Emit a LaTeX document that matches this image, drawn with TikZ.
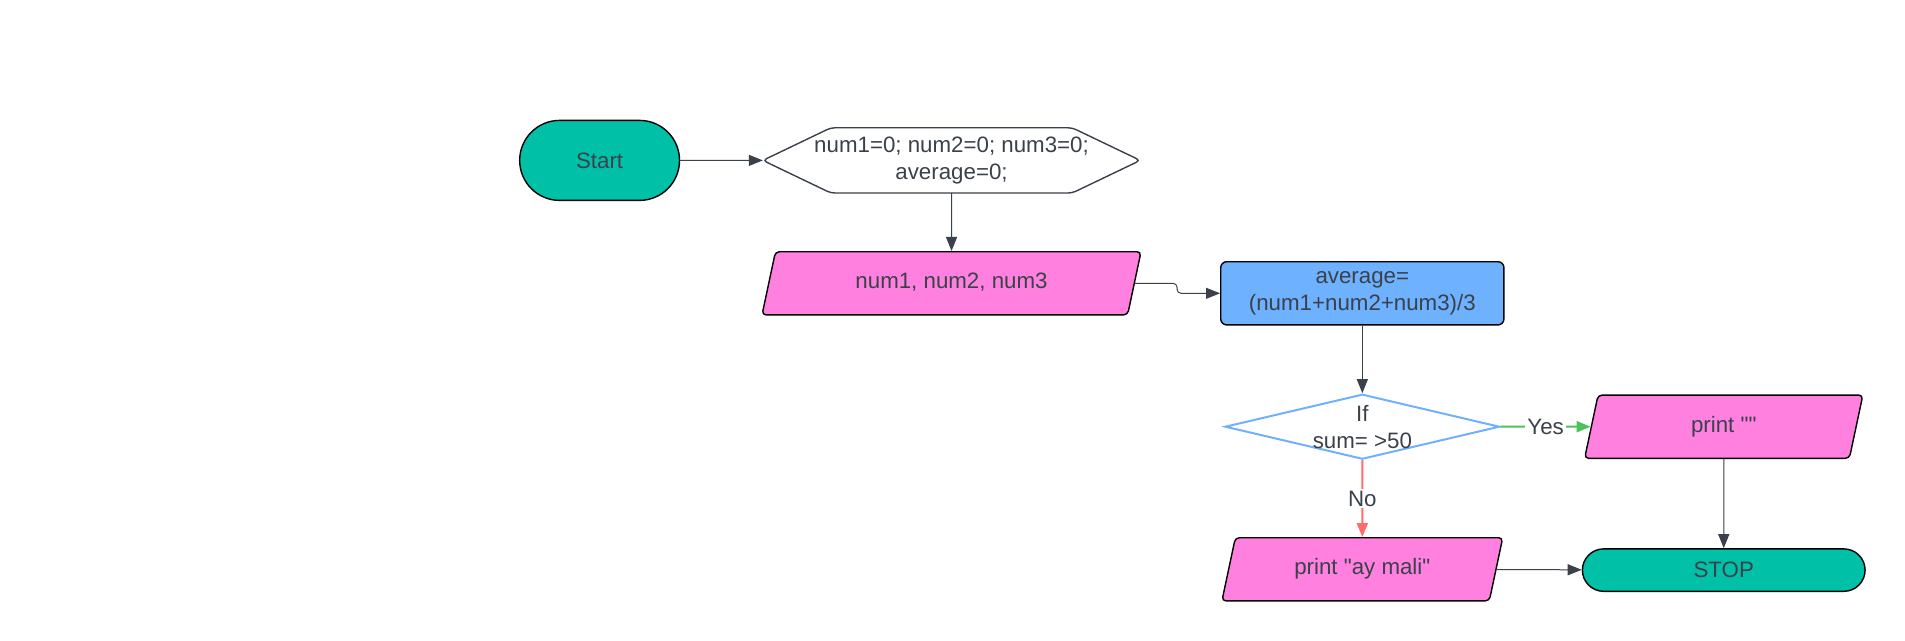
\documentclass[tikz,border=0pt]{standalone}
\usepackage{fontspec}
\setmainfont{Liberation Sans}[Ligatures=TeXOff]
\usepackage{tikz}
\usetikzlibrary{shapes,arrows.meta,positioning,calc}

\definecolor{txtgray}{HTML}{3A414A}
\definecolor{termteal}{HTML}{00C1A8}
\definecolor{iopink}{HTML}{FF80DF}
\definecolor{procblue}{HTML}{6DB1FF}
\definecolor{yesgreen}{HTML}{4CC35A}
\definecolor{nored}{HTML}{FF6B6B}

\begin{document}
\begin{tikzpicture}[node distance=30pt,
        every node/.style={font=\fontsize{11.15pt}{13.6pt}\selectfont, text=txtgray},
        term/.style={draw=black, fill=termteal, rounded rectangle, line width=0.7pt, minimum width=86.6pt, minimum height=40pt},
        hexa/.style={rectangle, minimum width=188.3pt, minimum height=32.2pt, inner sep=0pt, align=center},
        io/.style={draw=black, fill=iopink, trapezium, trapezium left angle=78, trapezium right angle=102, trapezium stretches body, rounded corners=2pt, line width=0.7pt, minimum width=189.5pt, text height=8pt, text depth=2.5pt, inner xsep=0pt, inner ysep=10.55pt},
        proc/.style={draw=black, fill=procblue, rectangle, rounded corners=3pt, line width=0.7pt, minimum width=141.6pt, minimum height=31.6pt, inner sep=0pt, align=center},
        decision/.style={draw=procblue, fill=white, diamond, line width=1pt, minimum width=137.3pt, minimum height=32.5pt, inner sep=0pt},
        line/.style={draw=txtgray, line width=0.5pt},
        yes/.style={draw=yesgreen, line width=1pt},
        no/.style={draw=nored, line width=1pt},
        lbl/.style={fill=white, inner sep=1pt, midway},
        >={Triangle[length=7pt,width=5.5pt]}
    ]
        \useasboundingbox (0,0) rectangle (952.5pt,-320.5pt);

        \node [term] (start) at (299.8pt,-80.2pt) {Start};
        \node [hexa, right=41.3pt of start] (init) {num1=0; num2=0; num3=0;\\average=0;};
        \node [io, below=29pt of init] (input) {num1, num2, num3};
        \node [proc, right=42.5pt of input, yshift=-5pt] (avg) {average=\\(num1+num2+num3)/3};
        \node [decision, below=33.8pt of avg, label={[align=center]center:{If\\sum= >50}}] (dec) {};
        \node [io, minimum width=139.1pt, right=45pt of dec] (pyes) {print ""};
        \node [io, minimum width=140.4pt, below=38.4pt of dec] (pno) {print "ay mali"};
        \node [term, minimum width=148pt, minimum height=21.2pt, below=44.6pt of pyes] (stop) {STOP};

        % hexagon outline round the init node
        \draw [line, line width=0.7pt, rounded corners=2pt] (init.west) -- ([xshift=34pt]init.north west) -- ([xshift=-34pt]init.north east) -- (init.east) -- ([xshift=-34pt]init.south east) -- ([xshift=34pt]init.south west) -- cycle;

        \draw [line, ->] (start) -- (init);
        \draw [line, ->] (init) -- (input);
        \draw [line, ->, rounded corners=2pt] (input.east) -- ++(21pt,0) |- (avg.west);
        \draw [line, ->] (avg) -- (dec);
        \draw [yes, ->] (dec) -- node[lbl]{Yes} (pyes);
        \draw [no, ->] (dec) -- node[lbl]{No} (pno);
        \draw [line, ->] (pyes) -- (stop);
        \draw [line, ->] (pno) -- (stop);
    \end{tikzpicture}
\end{document}
